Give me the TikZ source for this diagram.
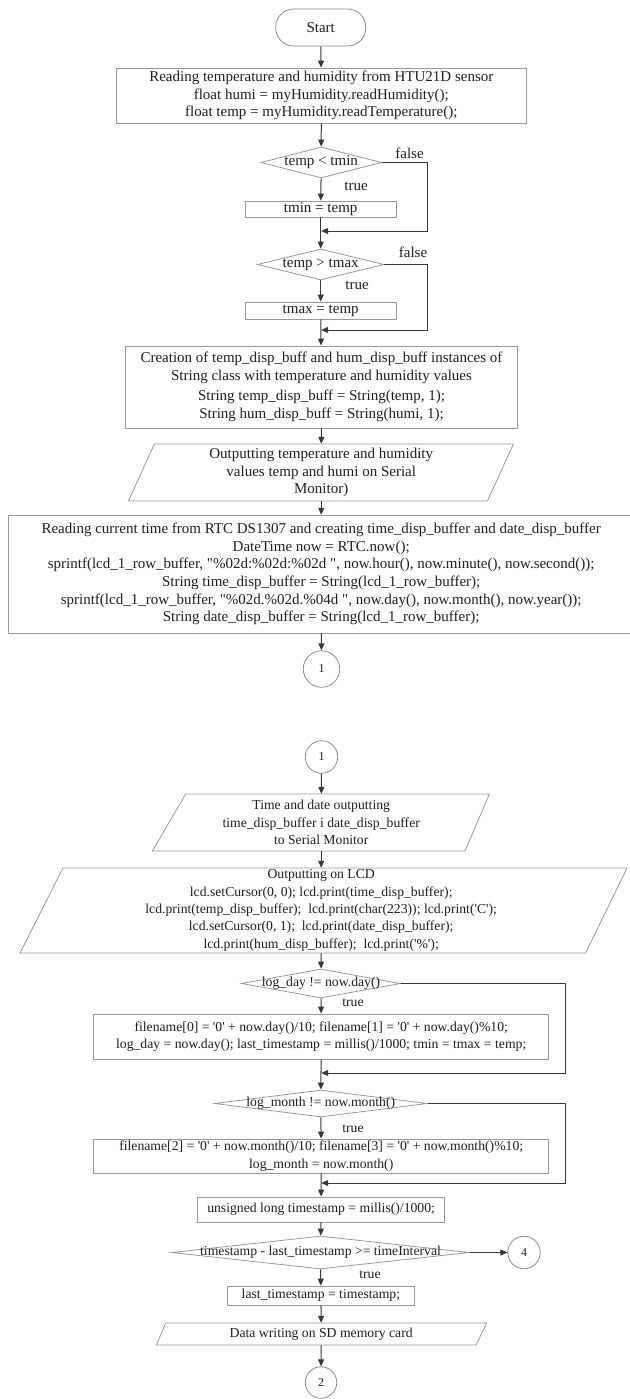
\documentclass[tikz,border=0pt]{standalone}
\usepackage{fontspec}
\setmainfont{Liberation Serif}[Ligatures=TeXOff]
\usetikzlibrary{shapes.geometric,arrows.meta}
\begin{document}
\begin{tikzpicture}[x=1pt,y=-1pt,
  every node/.style={text=black!88},
  topf/.style={font=\fontsize{15}{17.6}\selectfont},
  botf/.style={font=\fontsize{13.7}{17.3}\selectfont},
  box/.style={draw=black!40, line width=0.8pt, rectangle, inner sep=0pt, align=center},
  plain/.style={inner sep=0pt, align=center},
  dia/.style={draw=black!40, line width=0.8pt, diamond, inner sep=0pt},
  conn/.style={circle, draw=black!45, line width=0.8pt, inner sep=0pt, minimum size=32.5pt, font=\fontsize{12}{14}\selectfont},
  term/.style={draw=black!45, line width=0.8pt, rectangle, rounded corners=18pt, inner sep=0pt, minimum width=90pt, minimum height=37pt},
  shapeline/.style={draw=black!40, line width=0.8pt},
  arr/.style={draw=black!78, line width=1pt, -{Triangle[length=7pt,width=6pt]}},
  lab/.style={inner sep=0pt}
]
\useasboundingbox (0,0) rectangle (629,1399);

% ---- top part ----
\node[term, topf] (start) at (320.7,27.5) {Start};

\node[box, topf, minimum width=409.5pt, minimum height=55pt] (b1) at (321.3,95.5)
  {Reading temperature and humidity from HTU21D sensor\\
   float humi = myHumidity.readHumidity();\\
   float temp = myHumidity.readTemperature();};

\node[dia, minimum width=120.5pt, minimum height=31pt, label={[topf]center:temp < tmin}] (d1) at (321.2,162.5) {};
\node[box, topf, minimum width=150.5pt, minimum height=16pt] (tmin) at (320.7,209) {tmin = temp};
\coordinate (m1) at (321.2,231);
\coordinate (f1) at (427.6,231);

\node[dia, minimum width=126.5pt, minimum height=31pt, label={[topf]center:temp > tmax}] (d2) at (320.7,264.5) {};
\node[box, topf, minimum width=150.5pt, minimum height=17pt] (tmax) at (320.7,310.5) {tmax = temp};
\coordinate (m2) at (321.2,330);
\coordinate (f2) at (427.6,330);

\node[box, topf, minimum width=392pt, minimum height=82pt] (b2) at (321.5,387)
  {Creation of temp\_disp\_buff and hum\_disp\_buff instances of\\
   String class with temperature and humidity values\\[3pt]
   String temp\_disp\_buff = String(temp, 1);\\
   String hum\_disp\_buff = String(humi, 1);};

\node[plain, topf, minimum width=340pt, minimum height=57pt] (p1) at (321.2,472.5)
  {Outputting temperature and humidity\\
   values temp and humi on Serial\\
   Monitor)};
\draw[shapeline] (154.4,444) -- (513.4,444) -- (487.4,501) -- (128.4,501) -- cycle;

\node[plain, topf, minimum width=560pt, minimum height=118pt] (b3) at (321.2,574)
  {Reading current time from RTC DS1307 and creating time\_disp\_buffer and date\_disp\_buffer\\
   DateTime now = RTC.now();\\
   sprintf(lcd\_1\_row\_buffer, "\%02d:\%02d:\%02d ", now.hour(), now.minute(), now.second());\\
   String time\_disp\_buffer = String(lcd\_1\_row\_buffer);\\
   sprintf(lcd\_1\_row\_buffer, "\%02d.\%02d.\%04d ", now.day(), now.month(), now.year());\\
   String date\_disp\_buffer = String(lcd\_1\_row\_buffer);};
\draw[shapeline] (8.8,515) rectangle (640,633);

\node[conn, minimum size=36.5pt] (c1) at (321.5,669) {1};

% ---- bottom part ----
\node[conn] (c1b) at (321.5,757) {1};

\node[plain, botf, minimum width=300pt, minimum height=57pt] (p2) at (321.2,822.5)
  {Time and date outputting\\
   time\_disp\_buffer i date\_disp\_buffer\\
   to Serial Monitor};
\draw[shapeline] (185.7,794) -- (489.4,794) -- (465,851) -- (152.4,851) -- cycle;

\node[plain, botf, minimum width=520pt, minimum height=85pt] (p3) at (321.2,910.5)
  {Outputting on LCD\\
   lcd.setCursor(0, 0); lcd.print(time\_disp\_buffer);\\
   lcd.print(temp\_disp\_buffer);\ \ lcd.print(char(223)); lcd.print('C');\\
   lcd.setCursor(0, 1);\ \ lcd.print(date\_disp\_buffer);\\
   lcd.print(hum\_disp\_buffer);\ \ lcd.print('\%');};
\draw[shapeline] (63,868) -- (627,868) -- (585.6,953) -- (20,953) -- cycle;

\node[dia, minimum width=159pt, minimum height=29pt, label={[botf]center:log\_day != now.day()}] (d3) at (321,983.5) {};
\node[box, botf, minimum width=455pt, minimum height=45pt] (b4) at (321.2,1036.5)
  {filename[0] = '0' + now.day()/10; filename[1] = '0' + now.day()\%10;\\
   log\_day = now.day(); last\_timestamp = millis()/1000; tmin = tmax = temp;};
\coordinate (m3) at (321.2,1073);
\coordinate (f3) at (565.6,1073);

\node[dia, minimum width=212.6pt, minimum height=27pt, label={[botf]center:log\_month != now.month()}] (d4) at (320.8,1103.5) {};
\node[box, botf, minimum width=455pt, minimum height=34pt] (b5) at (321.2,1156)
  {filename[2] = '0' + now.month()/10; filename[3] = '0' + now.month()\%10;\\
   log\_month = now.month()};
\coordinate (m4) at (321.2,1183);
\coordinate (f4) at (565.6,1183);

\node[box, botf, minimum width=246.7pt, minimum height=25pt] (b6) at (321.1,1209.5) {unsigned long timestamp = millis()/1000;};
\node[dia, minimum width=297.6pt, minimum height=33pt, label={[botf]center:timestamp - last\_timestamp >= timeInterval}] (d5) at (320.5,1252.5) {};
\node[conn] (c4) at (524,1252.5) {4};
\node[box, botf, minimum width=187pt, minimum height=19pt] (b7) at (320.9,1295.5) {last\_timestamp = timestamp;};

\node[plain, botf, minimum width=300pt, minimum height=22pt] (p4) at (321.2,1334)
  {Data writing on SD memory card};
\draw[shapeline] (165.7,1323) -- (486.6,1323) -- (476.1,1345) -- (156.4,1345) -- cycle;

\node[conn, minimum size=31.5pt] (c2) at (321,1382.5) {2};

% ---- labels ----
\node[lab, topf] (fl1) at (409.5,153) {false};
\node[lab, topf] (tr1) at (356,186) {true};
\node[lab, topf] (fl2) at (413,252) {false};
\node[lab, topf] (tr2) at (357,285) {true};
\node[lab, botf] (tr3) at (353,1003) {true};
\node[lab, botf] (tr4) at (353,1129) {true};
\node[lab, botf] (tr5) at (370,1275) {true};

% ---- connectors ----
\draw[arr] (start) -- (b1);
\draw[arr] (b1) -- (d1);
\draw[arr] (d1) -- (tmin);
\draw[arr] (d1.east) -| (f1) -- (m1);
\draw[arr] (tmin) -- (d2);
\draw[arr] (d2) -- (tmax);
\draw[arr] (d2.east) -| (f2) -- (m2);
\draw[arr] (tmax) -- (b2);
\draw[arr] (b2) -- (p1);
\draw[arr] (p1) -- (b3);
\draw[arr] (b3) -- (c1);

\draw[arr] (c1b) -- (p2);
\draw[arr] (p2) -- (p3);
\draw[arr] (p3) -- (d3);
\draw[arr] (d3) -- (b4);
\draw[arr] (d3.east) -| (f3) -- (m3);
\draw[arr] (b4) -- (d4);
\draw[arr] (d4) -- (b5);
\draw[arr] (d4.east) -| (f4) -- (m4);
\draw[arr] (b5) -- (b6);
\draw[arr] (b6) -- (d5);
\draw[arr] (d5.east) -- (c4);
\draw[arr] (d5) -- (b7);
\draw[arr] (b7) -- (p4);
\draw[arr] (p4) -- (c2);
\end{tikzpicture}
\end{document}
